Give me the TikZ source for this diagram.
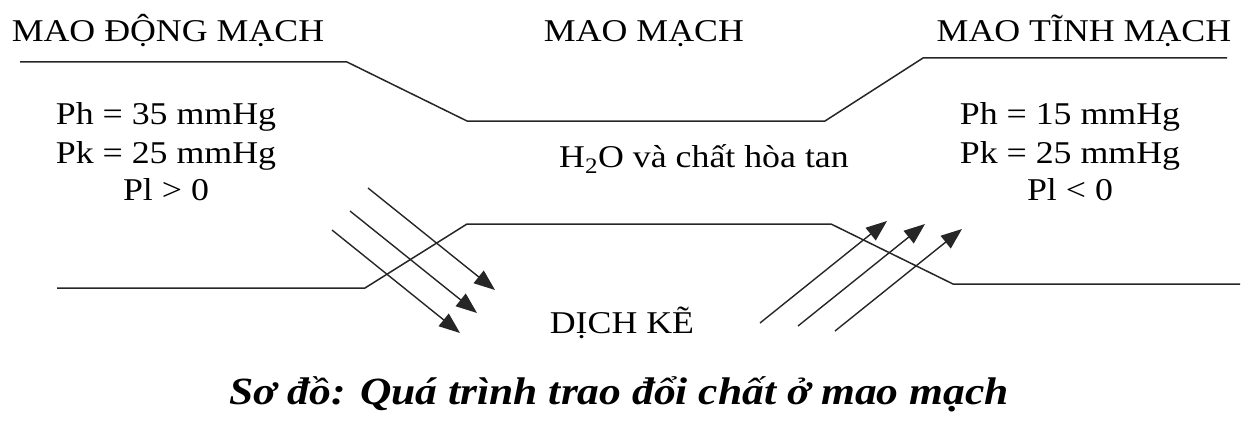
\documentclass[tikz,border=0pt]{standalone}
\usepackage{fontspec}
\setmainfont{Liberation Serif}[FakeStretch=1.13]
\usetikzlibrary{arrows.meta}
\begin{document}
\begin{tikzpicture}[x=1pt,y=-1pt,
  lbl/.style={anchor=base, inner sep=0pt, font=\fontsize{31.7}{38}\selectfont},
  captext/.style={anchor=base, inner sep=0pt, font=\fontsize{38.5}{46}\selectfont\bfseries\itshape},
  wall/.style={line width=1.5pt, line join=miter, draw=black!85},
  flow/.style={line width=1.4pt, draw=black!85, -{Triangle[length=21pt,width=16pt]}}]
\useasboundingbox (0,0) rectangle (1247,428);
% titles
\node[lbl] (tA) at (168,42) {MAO ĐỘNG MẠCH};
\node[lbl] (tC) at (644,42) {MAO MẠCH};
\node[lbl] (tV) at (1084,42) {MAO TĨNH MẠCH};
% left pressures
\node[lbl] (a1) at (166,124) {Ph = 35 mmHg};
\node[lbl] (a2) at (166,163) {Pk = 25 mmHg};
\node[lbl] (a3) at (166,200) {Pl > 0};
% right pressures
\node[lbl] (v1) at (1070,124) {Ph = 15 mmHg};
\node[lbl] (v2) at (1070,163) {Pk = 25 mmHg};
\node[lbl] (v3) at (1070,200) {Pl < 0};
% middle
\node[lbl] (h2o) at (704,167) {H\textsubscript{2}O và chất hòa tan};
\node[lbl] (dk) at (622,333) {DỊCH KẼ};
\node[captext] (caption) at (619,404) {Sơ đồ: Quá trình trao đổi chất ở mao mạch};
% walls
\coordinate (u1) at (20,62);
\coordinate (u2) at (347,62);
\coordinate (u3) at (467,121);
\coordinate (u4) at (825,121);
\coordinate (u5) at (923,58);
\coordinate (u6) at (1227,58);
\draw[wall] (u1) -- (u2) -- (u3) -- (u4) -- (u5) -- (u6);
\coordinate (d1) at (57,288);
\coordinate (d2) at (365,288);
\coordinate (d3) at (467,224);
\coordinate (d4) at (831,224);
\coordinate (d5) at (953,284);
\coordinate (d6) at (1240,284);
\draw[wall] (d1) -- (d2) -- (d3) -- (d4) -- (d5) -- (d6);
% left arrows (out of capillary)
\coordinate (ls1) at (368,188); \coordinate (le1) at (495,290);
\coordinate (ls2) at (350,211); \coordinate (le2) at (477,313);
\coordinate (ls3) at (332,230); \coordinate (le3) at (460,333);
\draw[flow] (ls1) -- (le1);
\draw[flow] (ls2) -- (le2);
\draw[flow] (ls3) -- (le3);
% right arrows (into capillary)
\coordinate (rs1) at (760,323); \coordinate (re1) at (887,221);
\coordinate (rs2) at (798,326); \coordinate (re2) at (925,224);
\coordinate (rs3) at (835,331); \coordinate (re3) at (962,229);
\draw[flow] (rs1) -- (re1);
\draw[flow] (rs2) -- (re2);
\draw[flow] (rs3) -- (re3);
\end{tikzpicture}
\end{document}
